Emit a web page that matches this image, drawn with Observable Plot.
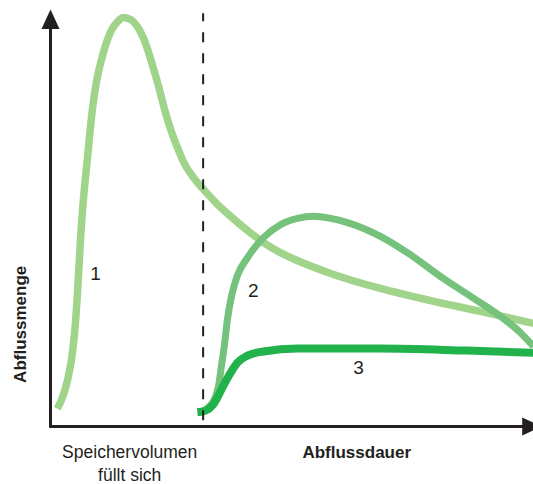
<!DOCTYPE html>
<html>
<head>
<meta charset="utf-8">
<script src="https://cdn.jsdelivr.net/npm/d3@7"></script>
<script src="https://cdn.jsdelivr.net/npm/@observablehq/plot@0.6"></script>
<style>
  html, body { margin: 0; padding: 0; background: #fff; }
  #chart svg { display: block; }
</style>
</head>
<body>
<div id="chart"></div>
<script>
// Curve 1 (light green)
const curve1X = [1.4, 2.5, 3.5, 4.6, 5.2, 5.8, 6.2, 6.8, 7.5, 8.1, 8.7, 9.5, 10.4, 11.4, 12.6, 13.9, 15.1, 16.6, 18.0, 19.3, 20.3, 21.3, 22.4, 23.4, 24.6, 26.1, 27.7, 29.6, 31.5, 34.2, 37.3, 40.8, 44.1, 47.6, 51.1, 58.0, 68.3, 78.7, 89.0, 100];
const curve1Y = [4.3, 7.0, 11.0, 18.2, 25.4, 36.2, 44.6, 54.2, 62.6, 69.8, 76.3, 82.5, 87.3, 91.4, 95.0, 97.1, 98.1, 97.6, 95.9, 93.0, 89.7, 85.9, 81.5, 77.0, 72.2, 67.4, 63.1, 59.7, 57.1, 53.7, 50.4, 47.0, 44.1, 41.7, 39.8, 36.7, 33.1, 30.2, 27.6, 24.7];
// Curve 2 (medium green)
const curve2X = [31.1, 32.7, 34.0, 34.8, 35.4, 36.0, 36.6, 37.5, 38.7, 40.8, 44.1, 47.6, 51.1, 54.5, 58.0, 61.5, 68.3, 74.5, 80.7, 87.0, 93.2, 97.3, 100];
const curve2Y = [3.4, 4.6, 6.7, 9.8, 14.6, 19.4, 25.4, 31.4, 36.2, 40.5, 45.3, 48.4, 49.9, 50.4, 49.9, 48.9, 45.6, 41.2, 36.0, 31.2, 26.4, 22.5, 19.2];
// Curve 3 (dark green)
const curve3X = [30.4, 32.1, 33.7, 35.8, 37.3, 38.7, 40.8, 44.1, 51.1, 68.3, 86.3, 100];
const curve3Y = [3.4, 3.8, 5.3, 9.8, 12.9, 15.3, 17.0, 18.0, 18.7, 18.7, 18.2, 17.7];

// Marker of the storage filling time
const fillTime = 31.6;
const dashExtent = [1.4, 99];

// Curve labels
const labelText = ["1", "2", "3"];
const labelX = [9.3, 42.0, 63.8];
const labelY = [36.7, 32.6, 14.1];

// Axis texts
const xTitle = "Abflussdauer";
const yTitle = "Abflussmenge";
const noteText = "Speichervolumen\nfüllt sich";

const colors = ["#a0d48b", "#74c27b", "#22b24c"];
const ink = "#231f20";

const mk = (xs, ys) => xs.map((x, i) => ({x, y: ys[i]}));
const c1 = mk(curve1X, curve1Y);
const c2 = mk(curve2X, curve2Y);
const c3 = mk(curve3X, curve3Y);
const labels = labelText.map((t, i) => ({t, x: labelX[i], y: labelY[i]}));

// Filled arrowheads (tip at the anchor point)
const arrowUp = {draw(ctx) { ctx.moveTo(0, 0); ctx.lineTo(-9, 19.5); ctx.lineTo(9, 19.5); ctx.closePath(); }};
const arrowRight = {draw(ctx) { ctx.moveTo(0, 0); ctx.lineTo(-19.5, -9); ctx.lineTo(-19.5, 9); ctx.closePath(); }};

const xMax = 100, yMax = 100;
const xArrowTip = 101.7;

const chart = Plot.plot({
  width: 533,
  height: 484,
  marginLeft: 50,
  marginRight: 0,
  marginTop: 9,
  marginBottom: 58,
  x: {domain: [0, xMax], axis: null},
  y: {domain: [0, yMax], axis: null},
  style: {fontFamily: "'Liberation Sans', Arial, sans-serif", color: ink, background: "#fff"},
  marks: [
    Plot.line(c1, {x: "x", y: "y", stroke: colors[0], strokeWidth: 7.5, curve: "monotone-x", strokeLinecap: "butt"}),
    Plot.line(c2, {x: "x", y: "y", stroke: colors[1], strokeWidth: 7, curve: "monotone-x", strokeLinecap: "butt"}),
    Plot.line(c3, {x: "x", y: "y", stroke: colors[2], strokeWidth: 8, curve: "monotone-x", strokeLinecap: "butt"}),
    Plot.ruleX([fillTime], {y1: dashExtent[0], y2: dashExtent[1], stroke: ink, strokeWidth: 2, strokeDasharray: "10,11"}),
    Plot.ruleY([0], {x1: 0, x2: xArrowTip - 2, stroke: ink, strokeWidth: 3}),
    Plot.ruleX([0], {y1: -0.4, y2: yMax - 2, stroke: ink, strokeWidth: 3}),
    Plot.dot([{x: 0, y: yMax}], {x: "x", y: "y", symbol: arrowUp, fill: ink, stroke: null, r: 5}),
    Plot.dot([{x: xArrowTip, y: 0}], {x: "x", y: "y", symbol: arrowRight, fill: ink, stroke: null, r: 5}),
    Plot.text(labels, {x: "x", y: "y", text: "t", fontSize: 19, fill: ink}),
    Plot.text([noteText], {x: 16.4, y: -8.6, text: d => d, fontSize: 17.5, lineHeight: 1.3, fill: ink}),
    Plot.text([xTitle], {x: 63.4, y: -6.2, text: d => d, fontSize: 17, fontWeight: "bold", fill: ink}),
    Plot.text([yTitle], {x: -6.2, y: 24.5, text: d => d, fontSize: 17, fontWeight: "bold", rotate: -90, fill: ink})
  ]
});
document.getElementById("chart").appendChild(chart);
</script>
</body>
</html>
